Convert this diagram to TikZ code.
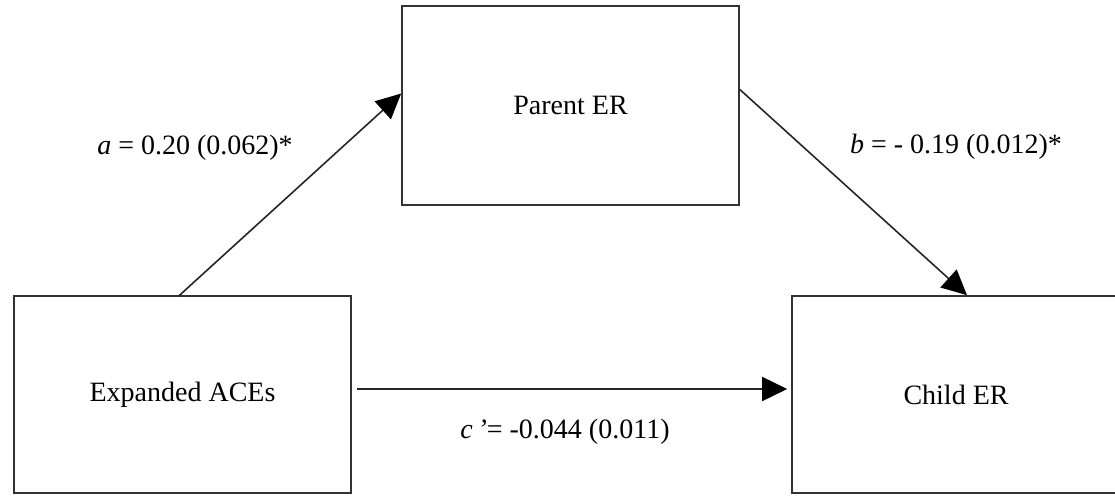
\documentclass[tikz,border=0pt]{standalone}
\usepackage{fontspec}
\setmainfont{Liberation Serif}
\usetikzlibrary{arrows.meta,calc}
\tikzset{
  box/.style={draw=black!80, line width=1.6pt, minimum width=337pt, minimum height=197pt, inner sep=0pt, font=\fontsize{28}{34}\selectfont},
  conn/.style={draw=black!85, line width=1.6pt, -{Triangle[length=25pt,width=24pt,fill=black,color=black]}},
  lbl/.style={font=\fontsize{28}{34}\selectfont, inner sep=0pt}
}
\begin{document}
\begin{tikzpicture}[x=1pt,y=-1pt]
\useasboundingbox (0,0) rectangle (1115,495);
\clip (0,0) rectangle (1115,495);
\node[box, minimum height=199pt] (parent) at (570.5,105.5) {Parent ER};
\node[box] (ace) at (182.5,394.5) {Expanded ACEs};
\node[box, minimum width=328pt] (child) at (956,394.5) {Child ER};
\draw[conn] ($(ace.north)+(-4,1)$) -- ($(parent.west)+(0,-12)$);
\draw[conn] ($(parent.east)+(0,-16)$) -- ($(child.north)+(11,0)$);
\draw[conn] ($(ace.east)+(5,-5.5)$) -- ($(child.west)+(-4,-5.5)$);
\node[lbl] (la) at (195,148) {\textit{a} = 0.20 (0.062)*};
\node[lbl] (lb) at (956,147) {\textit{b} = - 0.19 (0.012)*};
\node[lbl] (lc) at (565,432) {\textit{c\,’}= -0.044 (0.011)};
\end{tikzpicture}
\end{document}
